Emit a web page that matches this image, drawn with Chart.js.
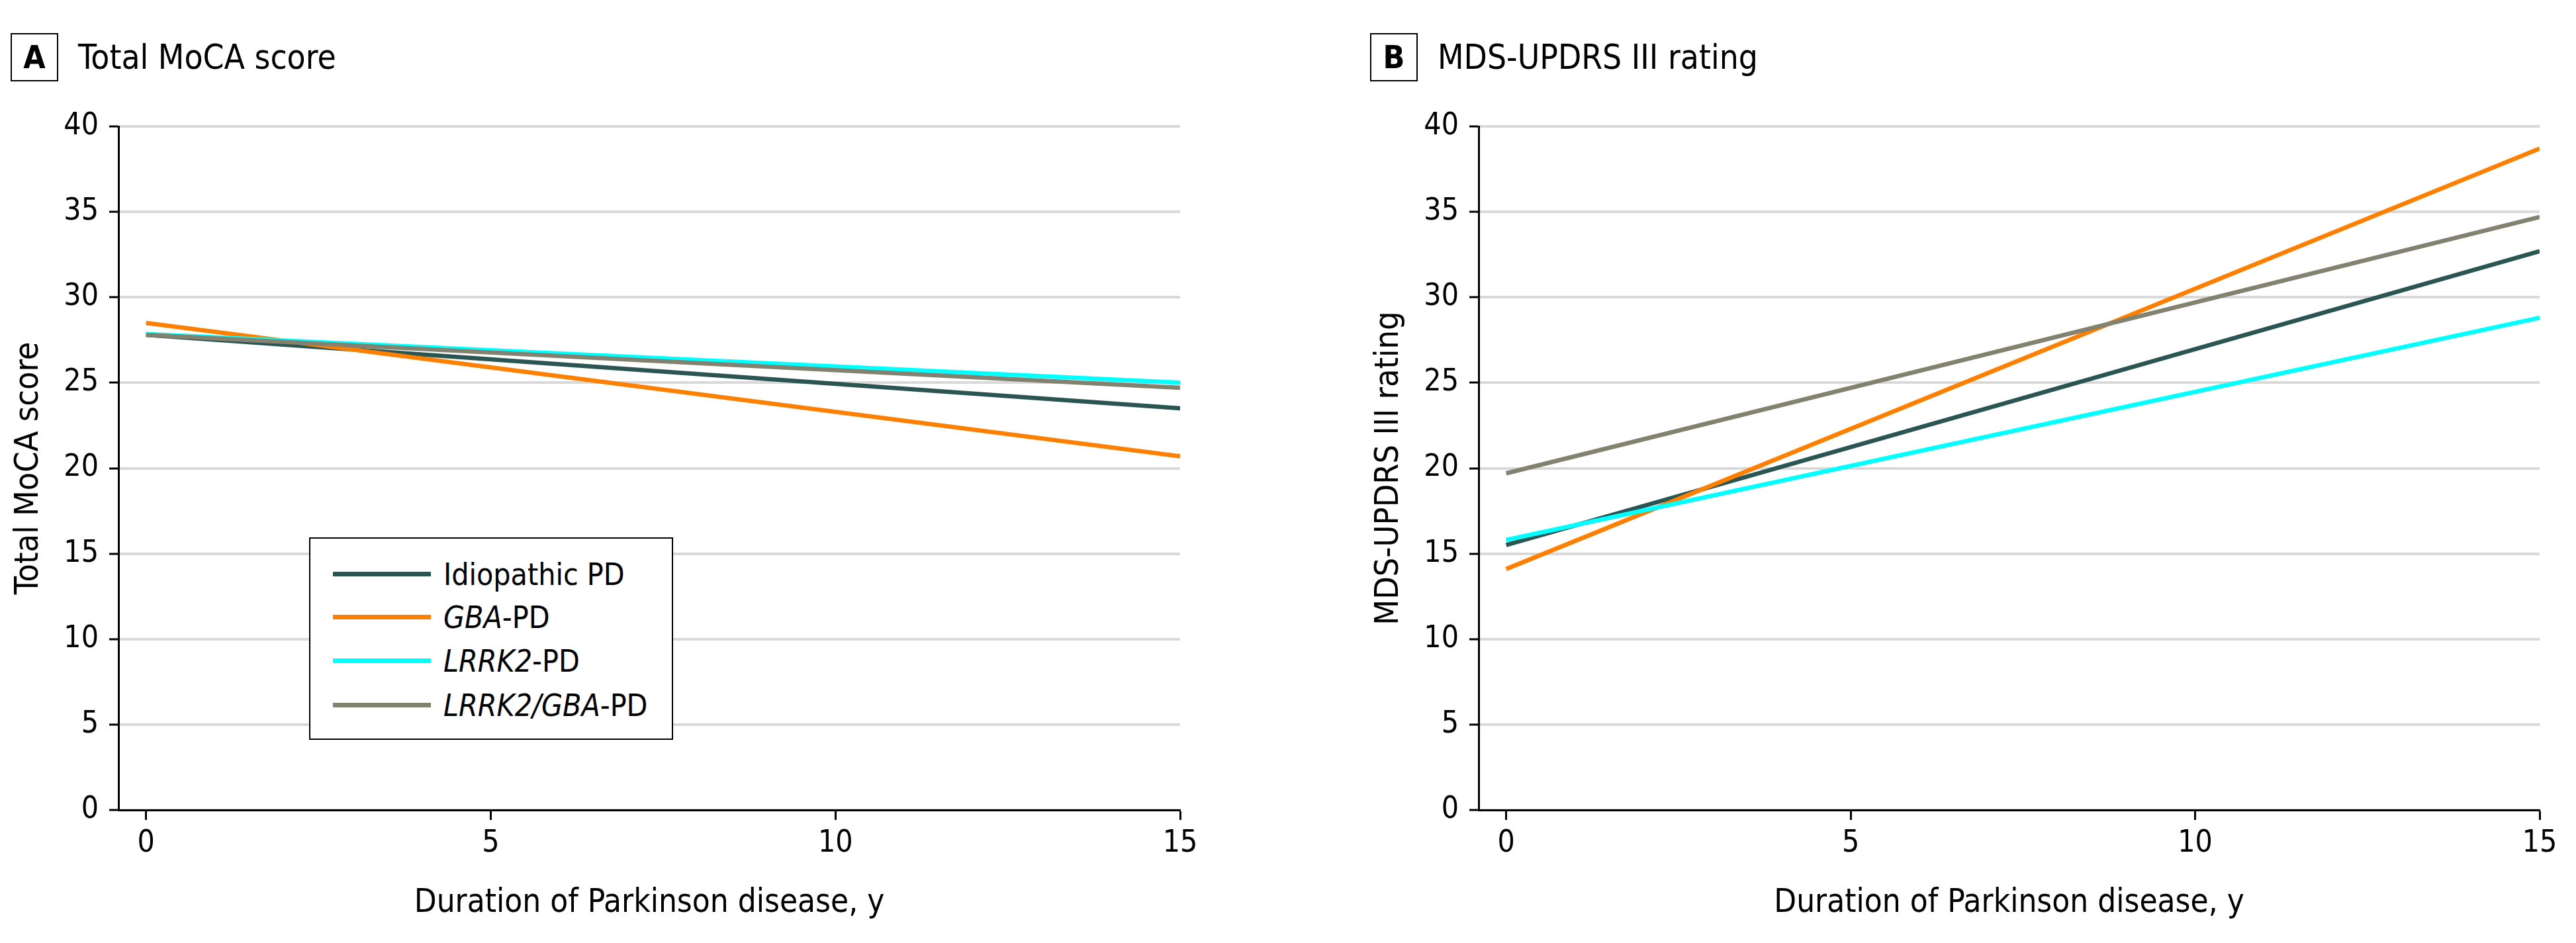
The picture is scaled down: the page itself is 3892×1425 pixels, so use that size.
<!DOCTYPE html>
<html>
<head>
<meta charset="utf-8">
<script src="https://cdn.jsdelivr.net/npm/chart.js@4.4.1/dist/chart.umd.min.js"></script>
<style>
  html, body { margin:0; padding:0; background:#fff; }
  body { width:3892px; height:1425px; position:relative; overflow:hidden;
         font-family:"DejaVu Sans Condensed","Liberation Sans",sans-serif; color:#000; }
  .panel { position:absolute; top:0; width:1946px; height:1425px; }
  .panel canvas { position:absolute; left:0; top:0; }
  .tbox { position:absolute; top:50px; width:68px; height:69px; border:2.5px solid #000;
          font-weight:bold; font-size:48px; line-height:69px; text-align:center; }
  .ttl { position:absolute; top:57px; font-size:51px; line-height:60px; white-space:nowrap; }
  #legend { position:absolute; left:467px; top:812px; width:546px; height:302px; border:2.5px solid #000; background:#fff; }
  .li { position:absolute; left:34px; height:66px; }
  .li .sw { position:absolute; left:0; width:148px; height:7px; }
  .li .tx { position:absolute; left:167px; font-size:46px; line-height:56px; white-space:nowrap; }
</style>
</head>
<body>
<div class="panel" id="pA" style="left:0"><canvas id="cA" width="1946" height="1425"></canvas></div>
<div class="panel" id="pB" style="left:1946px"><canvas id="cB" width="1946" height="1425"></canvas></div>
<div class="tbox" style="left:16px">A</div>
<div class="ttl" style="left:118px">Total MoCA score</div>
<div class="tbox" style="left:2070px">B</div>
<div class="ttl" style="left:2172px">MDS-UPDRS III rating</div>
<div id="legend"></div>
<script>
// ---- data ----
const years = [0, 15];
const xTickValues = [0, 5, 10, 15];
const yTickValues = [0, 5, 10, 15, 20, 25, 30, 35, 40];
const seriesNames = ['Idiopathic PD', 'GBA-PD', 'LRRK2-PD', 'LRRK2/GBA-PD'];
const seriesGene = ['', 'GBA', 'LRRK2', 'LRRK2/GBA'];
const mocaIdiopathic = [27.8, 23.5];
const mocaGBA = [28.5, 20.7];
const mocaLRRK2 = [27.85, 25.0];
const mocaLRRK2GBA = [27.8, 24.7];
const updrsIdiopathic = [15.5, 32.7];
const updrsGBA = [14.1, 38.7];
const updrsLRRK2 = [15.8, 28.8];
const updrsLRRK2GBA = [19.7, 34.7];
const xTitle = 'Duration of Parkinson disease, y';
const yTitleA = 'Total MoCA score';
const yTitleB = 'MDS-UPDRS III rating';

// ---- styles ----
const colors = ['#2a5553', '#ff8000', '#00ffff', '#838270'];
const FONT = '"DejaVu Sans Condensed","Liberation Sans",sans-serif';

function makeDatasets(seriesList) {
  return seriesList.map((vals, i) => ({
    label: seriesNames[i],
    data: years.map((x, k) => ({ x: x, y: vals[k] })),
    borderColor: colors[i],
    backgroundColor: colors[i],
    borderWidth: 6.5,
    pointRadius: 0,
    fill: false,
    tension: 0,
    order: seriesList.length - 1 - i
  }));
}

function makeChart(id, seriesList, yTitle, padLeft, padRight) {
  return new Chart(document.getElementById(id), {
    type: 'line',
    data: { datasets: makeDatasets(seriesList) },
    options: {
      responsive: false,
      animation: false,
      events: [],
      layout: { padding: { left: padLeft, right: padRight, top: 191, bottom: 0 } },
      plugins: { legend: { display: false }, tooltip: { enabled: false } },
      scales: {
        x: {
          type: 'linear', min: -0.4, max: 15,
          afterBuildTicks: (ax) => { ax.ticks = xTickValues.map(v => ({ value: v })); },
          afterFit: (sc) => { sc.height = 201; },
          grid: { drawOnChartArea: false, drawTicks: true, tickLength: 15, tickColor: '#000', tickWidth: 3 },
          border: { display: true, color: '#000', width: 3 },
          ticks: { color: '#000', font: { family: FONT, size: 46 }, padding: 8, maxRotation: 0, autoSkip: false },
          title: { display: true, text: xTitle, color: '#000', font: { family: FONT, size: 49 }, padding: { top: 0, bottom: 30 } }
        },
        y: {
          type: 'linear', min: 0, max: 40,
          afterBuildTicks: (ax) => { ax.ticks = yTickValues.map(v => ({ value: v })); },
          afterFit: (sc) => { sc.width = 179; },
          grid: { color: '#d9d9d9', lineWidth: 4, drawTicks: true, tickLength: 14, tickColor: '#000', tickWidth: 3 },
          border: { display: true, color: '#000', width: 3 },
          ticks: { color: '#000', font: { family: FONT, size: 46 }, padding: 16 },
          title: { display: true, text: yTitle, color: '#000', font: { family: FONT, size: 50 }, padding: { top: 14, bottom: 0 } }
        }
      }
    }
  });
}

const chartA = makeChart('cA', [mocaIdiopathic, mocaGBA, mocaLRRK2, mocaLRRK2GBA], yTitleA, 0, 163);
const chartB = makeChart('cB', [updrsIdiopathic, updrsGBA, updrsLRRK2, updrsLRRK2GBA], yTitleB, 109, 55);

// ---- HTML legend built from chart A datasets ----
const legend = document.getElementById('legend');
const itemTops = [21, 86, 152, 219];
chartA.data.datasets.forEach((ds, i) => {
  const it = document.createElement('div');
  it.className = 'li';
  it.style.top = itemTops[i] + 'px';
  const sw = document.createElement('div');
  sw.className = 'sw';
  sw.style.background = ds.borderColor;
  sw.style.top = '29px';
  const tx = document.createElement('div');
  tx.className = 'tx';
  tx.style.top = '5px';
  const gene = seriesGene[i];
  if (gene && ds.label.startsWith(gene)) {
    const em = document.createElement('i');
    em.textContent = gene;
    tx.appendChild(em);
    tx.appendChild(document.createTextNode(ds.label.slice(gene.length)));
  } else {
    tx.textContent = ds.label;
  }
  it.appendChild(sw);
  it.appendChild(tx);
  legend.appendChild(it);
});
</script>
</body>
</html>
